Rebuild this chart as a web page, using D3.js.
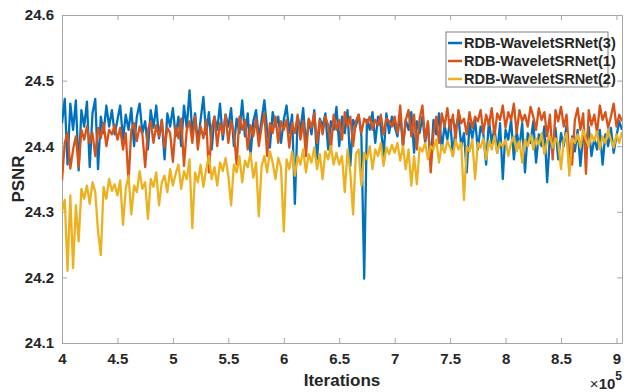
<!DOCTYPE html>
<html>
<head>
<meta charset="utf-8">
<script src="https://cdn.jsdelivr.net/npm/d3@7"></script>
<style>
  body { margin: 0; background: #fff; }
  svg { display: block; font-family: 'Liberation Sans', Arial, sans-serif; }
  .tick text { font-size: 15px; font-weight: bold; fill: #262626; }
  .domain { stroke: #a6a6a6; }
  .tick line { stroke: #a6a6a6; }
</style>
</head>
<body>
<svg id="chart" width="636" height="392"></svg>
<script>
// iterations sampled every 2500 from 4e5 to 9.05e5
const iterStart = 400000, iterEnd = 905000, iterStep = 2500;
const xTicks = [400000, 450000, 500000, 550000, 600000, 650000, 700000, 750000, 800000, 850000, 900000];
const yTicks = [24.1, 24.2, 24.3, 24.4, 24.5, 24.6];

const seriesNames = ['RDB-WaveletSRNet(3)', 'RDB-WaveletSRNet(1)', 'RDB-WaveletSRNet(2)'];
const seriesColors = ['#0072bd', '#d95319', '#edb120'];

const psnr3 = [
  24.435, 24.472, 24.372, 24.465, 24.425, 24.470, 24.363, 24.455, 24.430, 24.468,
  24.368, 24.450, 24.472, 24.365, 24.445, 24.420, 24.462, 24.430, 24.455, 24.418,
  24.440, 24.462, 24.410, 24.448, 24.425, 24.458, 24.400, 24.445, 24.465, 24.420,
  24.438, 24.395, 24.455, 24.428, 24.462, 24.412, 24.440, 24.380, 24.450, 24.430,
  24.458, 24.415, 24.445, 24.400, 24.462, 24.428, 24.485, 24.420, 24.450, 24.405,
  24.440, 24.475, 24.418, 24.452, 24.395, 24.445, 24.425, 24.465, 24.410, 24.448,
  24.430, 24.458, 24.400, 24.442, 24.420, 24.470, 24.415, 24.450, 24.385, 24.438,
  24.455, 24.412, 24.440, 24.470, 24.425, 24.398, 24.452, 24.430, 24.445, 24.405,
  24.440, 24.462, 24.420, 24.448, 24.312, 24.445, 24.425, 24.458, 24.400, 24.440,
  24.418, 24.455, 24.380, 24.442, 24.430, 24.450, 24.395, 24.438, 24.425, 24.460,
  24.400, 24.445, 24.420, 24.455, 24.370, 24.440, 24.430, 24.448, 24.415, 24.198,
  24.440, 24.425, 24.452, 24.405, 24.445, 24.430, 24.385, 24.450, 24.420, 24.445,
  24.430, 24.415, 24.448, 24.400, 24.440, 24.425, 24.452, 24.390, 24.438, 24.420,
  24.445, 24.405, 24.435, 24.372, 24.440, 24.418, 24.450, 24.395, 24.432, 24.410,
  24.440, 24.385, 24.428, 24.445, 24.400, 24.420, 24.360, 24.435, 24.412, 24.440,
  24.395, 24.430, 24.418, 24.372, 24.440, 24.405, 24.428, 24.390, 24.435, 24.350,
  24.425, 24.410, 24.440, 24.380, 24.422, 24.398, 24.435, 24.360, 24.420, 24.405,
  24.438, 24.375, 24.418, 24.400, 24.430, 24.345, 24.415, 24.392, 24.428, 24.380,
  24.420, 24.400, 24.432, 24.365, 24.415, 24.392, 24.425, 24.370, 24.418, 24.402,
  24.430, 24.385, 24.412, 24.395, 24.425, 24.372, 24.418, 24.400, 24.428, 24.390,
  24.415, 24.438, 24.425
];

const psnr1 = [
  24.348, 24.405, 24.420, 24.366, 24.395, 24.415, 24.368, 24.425, 24.410, 24.430,
  24.405, 24.420, 24.385, 24.428, 24.412, 24.435, 24.400, 24.425, 24.418, 24.432,
  24.410, 24.428, 24.395, 24.420, 24.345, 24.425, 24.435, 24.408, 24.430, 24.418,
  24.368, 24.425, 24.438, 24.405, 24.432, 24.415, 24.440, 24.398, 24.428, 24.420,
  24.376, 24.430, 24.412, 24.442, 24.370, 24.425, 24.438, 24.405, 24.445, 24.395,
  24.430, 24.412, 24.440, 24.360, 24.428, 24.445, 24.400, 24.435, 24.418, 24.448,
  24.405, 24.438, 24.420, 24.372, 24.445, 24.425, 24.440, 24.395, 24.432, 24.415,
  24.442, 24.400, 24.430, 24.450, 24.385, 24.435, 24.420, 24.445, 24.405, 24.438,
  24.425, 24.440, 24.398, 24.435, 24.420, 24.448, 24.410, 24.438, 24.385, 24.442,
  24.428, 24.450, 24.405, 24.440, 24.418, 24.445, 24.432, 24.395, 24.448, 24.425,
  24.440, 24.410, 24.452, 24.430, 24.445, 24.400, 24.438, 24.448, 24.420, 24.442,
  24.435, 24.445, 24.425, 24.440, 24.432, 24.448, 24.418, 24.442, 24.438, 24.430,
  24.445, 24.420, 24.462, 24.400, 24.440, 24.455, 24.415, 24.448, 24.395, 24.442,
  24.462, 24.410, 24.438, 24.360, 24.420, 24.445, 24.405, 24.450, 24.430, 24.458,
  24.425, 24.448, 24.410, 24.455, 24.435, 24.442, 24.418, 24.452, 24.428, 24.445,
  24.438, 24.455, 24.420, 24.448, 24.432, 24.458, 24.415, 24.450, 24.440, 24.462,
  24.428, 24.452, 24.440, 24.465, 24.420, 24.455, 24.438, 24.448, 24.430, 24.460,
  24.445, 24.425, 24.458, 24.440, 24.452, 24.415, 24.448, 24.380, 24.455, 24.438,
  24.460, 24.430, 24.448, 24.385, 24.372, 24.440, 24.458, 24.425, 24.450, 24.358,
  24.455, 24.432, 24.448, 24.420, 24.462, 24.440, 24.452, 24.428, 24.445, 24.465,
  24.430, 24.448, 24.438
];

const psnr2 = [
  24.300, 24.318, 24.210, 24.325, 24.214, 24.310, 24.255, 24.335, 24.320, 24.340,
  24.312, 24.345, 24.330, 24.270, 24.234, 24.338, 24.320, 24.350, 24.332, 24.342,
  24.325, 24.348, 24.280, 24.335, 24.355, 24.296, 24.340, 24.330, 24.362, 24.335,
  24.345, 24.289, 24.350, 24.338, 24.360, 24.310, 24.345, 24.355, 24.330, 24.365,
  24.340, 24.358, 24.372, 24.335, 24.362, 24.350, 24.380, 24.275, 24.360, 24.345,
  24.372, 24.338, 24.365, 24.385, 24.350, 24.368, 24.340, 24.375, 24.362, 24.382,
  24.355, 24.310, 24.372, 24.360, 24.385, 24.345, 24.378, 24.368, 24.390, 24.352,
  24.375, 24.293, 24.370, 24.385, 24.360, 24.392, 24.375, 24.350, 24.382, 24.368,
  24.270, 24.380, 24.365, 24.392, 24.355, 24.385, 24.372, 24.395, 24.360, 24.388,
  24.375, 24.398, 24.365, 24.388, 24.350, 24.392, 24.380, 24.400, 24.372, 24.390,
  24.372, 24.385, 24.330, 24.395, 24.360, 24.296, 24.388, 24.395, 24.340, 24.390,
  24.380, 24.400, 24.365, 24.395, 24.385, 24.405, 24.370, 24.398, 24.388, 24.402,
  24.390, 24.405, 24.378, 24.400, 24.365, 24.395, 24.340, 24.385, 24.342, 24.398,
  24.392, 24.405, 24.380, 24.400, 24.395, 24.410, 24.375, 24.402, 24.390, 24.408,
  24.398, 24.385, 24.410, 24.395, 24.405, 24.318, 24.400, 24.392, 24.410, 24.350,
  24.405, 24.398, 24.412, 24.380, 24.408, 24.395, 24.415, 24.390, 24.405, 24.400,
  24.410, 24.385, 24.405, 24.415, 24.392, 24.408, 24.375, 24.410, 24.400, 24.418,
  24.395, 24.412, 24.402, 24.420, 24.388, 24.408, 24.415, 24.398, 24.412, 24.405,
  24.365, 24.410, 24.420, 24.355, 24.412, 24.405, 24.418, 24.398, 24.425, 24.410,
  24.400, 24.418, 24.408, 24.422, 24.395, 24.415, 24.405, 24.425, 24.410, 24.398,
  24.418, 24.405, 24.422
];

const iterations = d3.range(iterStart, iterEnd + 1, iterStep);
const allSeries = [psnr3, psnr1, psnr2];

const margin = { top: 15, right: 14, bottom: 49, left: 62 };
const W = 636, H = 392;
const innerW = W - margin.left - margin.right;
const innerH = H - margin.top - margin.bottom;

const svg = d3.select('#chart');
const g = svg.append('g').attr('transform', `translate(${margin.left},${margin.top})`);

const x = d3.scaleLinear().domain([iterStart, iterEnd]).range([0, innerW]);
const y = d3.scaleLinear().domain([24.1, 24.6]).range([innerH, 0]);

// axes (MATLAB style box with inward ticks)
g.append('g')
  .attr('transform', `translate(0,${innerH})`)
  .call(d3.axisBottom(x).tickValues(xTicks).tickSizeInner(-5).tickSizeOuter(0).tickPadding(10)
    .tickFormat(d => d3.format('~g')(d / 1e5)));
g.append('g')
  .call(d3.axisTop(x).tickValues(xTicks).tickSizeInner(-5).tickSizeOuter(0).tickFormat(''));
g.append('g')
  .call(d3.axisLeft(y).tickValues(yTicks).tickSizeInner(-5).tickSizeOuter(0).tickPadding(8)
    .tickFormat(d3.format('.1f')));
g.append('g')
  .attr('transform', `translate(${innerW},0)`)
  .call(d3.axisRight(y).tickValues(yTicks).tickSizeInner(-5).tickSizeOuter(0).tickFormat(''));

// clip lines to the plot box
svg.append('defs').append('clipPath').attr('id', 'plotclip')
  .append('rect').attr('width', innerW).attr('height', innerH);

const line = d3.line()
  .x((d, i) => x(iterations[i]))
  .y(d => y(d));

g.append('g').attr('clip-path', 'url(#plotclip)')
  .selectAll('path')
  .data(allSeries)
  .enter().append('path')
  .attr('d', line)
  .attr('fill', 'none')
  .attr('stroke', (d, i) => seriesColors[i])
  .attr('stroke-width', 2.3)
  .attr('stroke-linejoin', 'round');

// axis labels
svg.append('text')
  .attr('transform', `translate(24,${margin.top + innerH / 2}) rotate(-90)`)
  .attr('text-anchor', 'middle')
  .style('font-size', '17px').style('font-weight', 'bold').style('fill', '#262626')
  .text('PSNR');

svg.append('text')
  .attr('x', margin.left + innerW / 2).attr('y', 386)
  .attr('text-anchor', 'middle')
  .style('font-size', '17px').style('font-weight', 'bold').style('fill', '#262626')
  .text('Iterations');

const exp = svg.append('text')
  .attr('x', 622).attr('y', 389)
  .attr('text-anchor', 'end')
  .style('font-size', '15px').style('font-weight', 'bold').style('fill', '#262626');
exp.append('tspan').style('font-weight', 'normal').text('\u00d7');
exp.append('tspan').text('10');
exp.append('tspan').attr('dy', -9).style('font-size', '12px').text('5');

// legend
const legend = svg.append('g').attr('transform', 'translate(446,32)');
legend.append('rect')
  .attr('width', 162).attr('height', 55)
  .attr('fill', '#fff').attr('stroke', '#808080').attr('stroke-width', 1);
const items = legend.selectAll('g.item')
  .data(seriesNames)
  .enter().append('g')
  .attr('class', 'item')
  .attr('transform', (d, i) => `translate(0,${11 + i * 18})`);
items.append('line')
  .attr('x1', 2).attr('x2', 16)
  .attr('stroke', (d, i) => seriesColors[i]).attr('stroke-width', 2.5);
items.append('text')
  .attr('x', 18).attr('dy', '0.35em')
  .style('font-size', '14.5px').style('font-weight', 'bold').style('fill', '#262626')
  .text(d => d);
</script>
</body>
</html>
